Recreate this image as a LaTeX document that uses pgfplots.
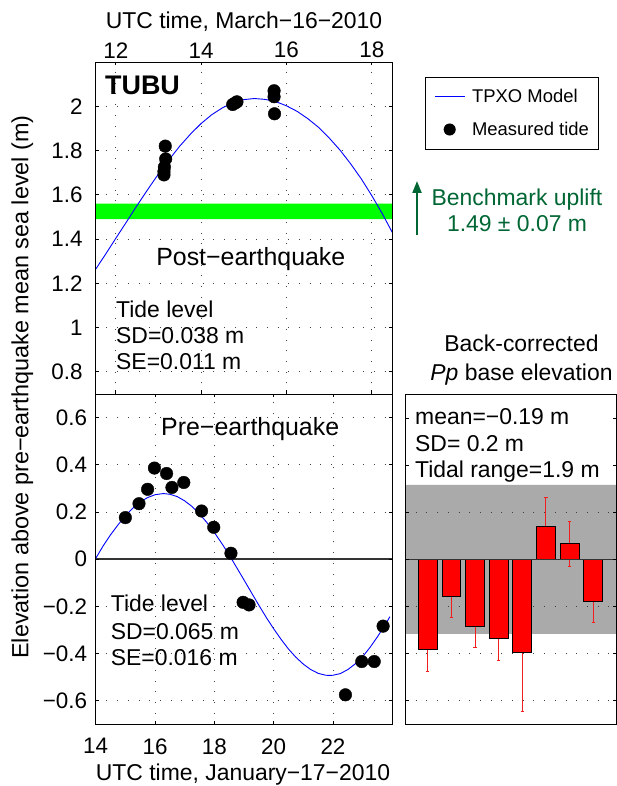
\documentclass[border=0pt]{standalone}
\usepackage{fontspec}
\setmainfont{Liberation Sans}
\usepackage{pgfplots}
\pgfplotsset{compat=1.18}
\usetikzlibrary{arrows.meta}
\definecolor{bandgray}{RGB}{170,170,170}
\definecolor{bmgreen}{RGB}{0,102,51}
\definecolor{errred}{RGB}{240,30,30}
\newcommand\fs[1]{\fontsize{#1pt}{#1pt}\selectfont}
\pgfplotsset{
  layers/mine/.define layer set={axis background,axis grid,main,axis ticks,axis lines,axis tick labels,axis descriptions,axis foreground}{/pgfplots/layers/standard},
  common/.style={scale only axis, anchor=south west, set layers=mine,
    grid=major, tick align=inside, major tick length=3.5bp,
    axis line style={line width=0.8bp, black},
    every tick/.append style={line width=0.8bp, black},
    grid style={black!75, line width=0.8bp, dash pattern=on 0.9bp off 9.8bp},
    ticklabel style={font=\fs{22.5}, inner sep=0pt},
  },
}
\begin{document}
\begin{tikzpicture}

% ---------- top-left: post-earthquake ----------
\begin{axis}[common, at={(95.7bp,392bp)}, width=296.6bp, height=332bp,
  xmin=11.53, xmax=18.48, ymin=0.7, ymax=2.2,
  xtick={12,14,16,18}, xticklabels={12,14,16,18},
  xticklabel pos=upper, xtick pos=both, ytick pos=both,
  xticklabel style={anchor=south, yshift=3.7bp},
  ytick={0.8,1,1.2,1.4,1.6,1.8,2}, yticklabels={0.8,1,1.2,1.4,1.6,1.8,2},
  yticklabel style={anchor=east, xshift=-13bp},
  legend style={at={(1.110,0.955)}, anchor=north west, draw=black, line width=0.6bp,
    fill=white, font=\fs{18.5}, inner xsep=9bp, inner ysep=12bp, row sep=18bp,
    column sep=7bp, nodes={inner sep=0pt}},
  legend cell align=left]
\addplot[forget plot, fill=green, draw=none] coordinates {(11.53,1.49)(18.48,1.49)(18.48,1.56)(11.53,1.56)(11.53,1.49)};
\addplot[blue, line width=0.9bp, mark=none,
  legend image code/.code={\path[draw=none,fill=none] (0bp,-5bp) rectangle (30bp,5bp); \draw[blue, line width=0.9bp] (0bp,0bp) -- (30bp,0bp);}]
  coordinates {(11.53,1.264)(11.75,1.328)(12.0,1.403)(12.25,1.477)(12.5,1.552)(12.75,1.624)(13.0,1.694)(13.25,1.759)(13.5,1.820)(13.75,1.874)(14.0,1.922)(14.25,1.962)(14.5,1.993)(14.75,2.016)(15.0,2.030)(15.25,2.035)(15.5,2.031)(15.75,2.021)(16.0,2.002)(16.25,1.977)(16.5,1.944)(16.75,1.905)(17.0,1.857)(17.25,1.803)(17.5,1.741)(17.75,1.673)(18.0,1.596)(18.25,1.513)(18.48,1.430)};
\addlegendentry{TPXO Model}
\addplot[only marks, mark=*, mark size=6.3bp, black,
  legend image code/.code={\path[draw=none,fill=none] (0bp,-5bp) rectangle (30bp,5bp); \fill[black] (15bp,0bp) circle (5.7bp);}]
  coordinates {(13.16,1.82)(13.17,1.762)(13.14,1.725)(13.13,1.705)(13.13,1.69)(14.74,2.008)(14.80,2.015)(14.84,2.02)(15.71,2.07)(15.71,2.043)(15.72,1.966)};
\addlegendentry{Measured tide}
\end{axis}

% ---------- bottom-left: pre-earthquake ----------
\begin{axis}[common, at={(95.7bp,61.7bp)}, width=296.6bp, height=330.3bp,
  xmin=14, xmax=24, ymin=-0.7, ymax=0.7,
  xtick={14,16,18,20,22}, xticklabels={14,16,18,20,22},
  xtick pos=both, ytick pos=both,
  xticklabel style={anchor=north, yshift=-14bp},
  ytick={-0.6,-0.4,-0.2,0,0.2,0.4,0.6}, yticklabels={−0.6,−0.4,−0.2,0,0.2,0.4,0.6},
  yticklabel style={anchor=east, xshift=-8.5bp}]
\addplot[black!80, line width=1.3bp] coordinates {(14,0)(24,0)};
\addplot[blue, line width=0.9bp, mark=none]
  coordinates {(14.0,0.003)(14.25,0.056)(14.5,0.103)(14.75,0.145)(15.0,0.184)(15.25,0.216)(15.5,0.242)(15.75,0.261)(16.0,0.273)(16.28,0.278)(16.5,0.275)(16.75,0.265)(17.0,0.247)(17.25,0.223)(17.5,0.192)(17.75,0.155)(18.0,0.113)(18.25,0.067)(18.5,0.018)(18.75,-0.035)(19.0,-0.088)(19.25,-0.142)(19.5,-0.195)(19.75,-0.247)(20.0,-0.295)(20.25,-0.340)(20.5,-0.381)(20.75,-0.416)(21.0,-0.445)(21.25,-0.468)(21.5,-0.484)(21.75,-0.492)(21.9,-0.493)(22.0,-0.492)(22.25,-0.485)(22.5,-0.468)(22.75,-0.444)(23.0,-0.413)(23.25,-0.374)(23.5,-0.329)(23.75,-0.280)(23.92,-0.244)};
\addplot[only marks, mark=*, mark size=6.3bp, black]
  coordinates {(15.0,0.176)(15.46,0.235)(15.75,0.296)(15.98,0.386)(16.39,0.363)(16.57,0.304)(16.97,0.325)(17.57,0.204)(17.98,0.135)(18.56,0.025)(18.97,-0.183)(19.17,-0.194)(22.42,-0.575)(22.97,-0.434)(23.39,-0.434)(23.69,-0.284)};
\end{axis}

% ---------- right: back-corrected Pp base elevation ----------
\begin{axis}[common, at={(405bp,62bp)}, width=211bp, height=329.5bp,
  xmin=0.034, xmax=8.966, ymin=-0.7, ymax=0.7,
  xtick=\empty, ytick pos=both,
  ytick={-0.6,-0.4,-0.2,0,0.2,0.4,0.6}, yticklabels={,,,,,,},
  xmajorgrids=false, ymajorgrids=true, unbounded coords=jump]
\addplot[on layer=axis background, fill=bandgray, draw=none] coordinates {(0.034,-0.317)(8.966,-0.317)(8.966,0.317)(0.034,0.317)(0.034,-0.317)};
\addplot[fill=white, draw=none] coordinates {(0.034,0.317)(8.966,0.317)(8.966,0.7)(0.034,0.7)(0.034,0.317)};
% error bars (value +- error), drawn under the bars
\addplot[errred, line width=1bp, mark=none] coordinates {
 (1,-0.475)(1,-0.291)(0,nan)(0.93,-0.475)(1.07,-0.475)(0,nan)
 (2,-0.246)(2,-0.066)(0,nan)(1.93,-0.246)(2.07,-0.246)(0,nan)
 (3,-0.373)(3,-0.199)(0,nan)(2.93,-0.373)(3.07,-0.373)(0,nan)
 (4,-0.430)(4,-0.240)(0,nan)(3.93,-0.430)(4.07,-0.430)(0,nan)
 (5,-0.648)(5,-0.140)(0,nan)(4.93,-0.648)(5.07,-0.648)(0,nan)
 (6,0.021)(6,0.261)(0,nan)(5.93,0.261)(6.07,0.261)(0,nan)
 (7,-0.030)(7,0.162)(0,nan)(6.93,0.162)(7.07,0.162)(0,nan)(6.93,-0.030)(7.07,-0.030)(0,nan)
 (8,-0.270)(8,-0.088)(0,nan)(7.93,-0.270)(8.07,-0.270)};
\addplot[ybar, bar width=0.8, fill=red, draw=black, line width=0.8bp]
  coordinates {(1,-0.383)(2,-0.156)(3,-0.286)(4,-0.335)(5,-0.394)(6,0.141)(7,0.066)(8,-0.179)};
\addplot[black!80, line width=1.3bp] coordinates {(0.034,0)(8.966,0)};
\end{axis}

% ---------- texts ----------
\begin{scope}[every node/.style={inner sep=0pt}]
\node[anchor=base, font=\fs{23}] at (244bp,757.7bp) {UTC time, March−16−2010};
\node[anchor=base, font=\fs{23}] at (243bp,6bp) {UTC time, January−17−2010};
\node[anchor=base, rotate=90, font=\fs{23.5}] at (28.4bp,399bp) {Elevation above pre−earthquake mean sea level (m)};

\node[anchor=base west, font=\fs{27}\bfseries] at (105bp,691bp) {TUBU};
\node[anchor=base, font=\fs{25}] at (250.8bp,520.3bp) {Post−earthquake};
\node[anchor=base west, font=\fs{23}] at (116bp,468.7bp) {Tide level};
\node[anchor=base west, font=\fs{23}] at (116bp,442bp) {SD=0.038 m};
\node[anchor=base west, font=\fs{23}] at (116bp,416bp) {SE=0.011 m};

\node[anchor=base, font=\fs{25}] at (250.2bp,350.3bp) {Pre−earthquake};
\node[anchor=base west, font=\fs{23}] at (110.7bp,174.3bp) {Tide level};
\node[anchor=base west, font=\fs{23}] at (110.7bp,146bp) {SD=0.065 m};
\node[anchor=base west, font=\fs{23}] at (110.7bp,120bp) {SE=0.016 m};

\node[anchor=base west, font=\fs{23}] at (415bp,361bp) {mean=−0.19 m};
\node[anchor=base west, font=\fs{23}] at (415bp,334.3bp) {SD= 0.2 m};
\node[anchor=base west, font=\fs{23}] at (415bp,308.7bp) {Tidal range=1.9 m};

\node[anchor=base, font=\fs{23}] at (521.5bp,434.3bp) {Back-corrected};
\node[anchor=base, font=\fs{23}] at (521.5bp,405.3bp) {\textit{Pp} base elevation};

\draw[bmgreen, line width=2bp, -{Triangle[length=12bp,width=9bp]}] (417bp,551bp) -- (417bp,605bp);
\node[anchor=base, font=\fs{23}, text=bmgreen] at (517bp,580.3bp) {Benchmark uplift};
\node[anchor=base, font=\fs{23}, text=bmgreen] at (517bp,554.3bp) {1.49 ± 0.07 m};
\end{scope}

\pgfresetboundingbox
\path[use as bounding box] (0,0) rectangle (617bp,786bp);
\end{tikzpicture}
\end{document}
